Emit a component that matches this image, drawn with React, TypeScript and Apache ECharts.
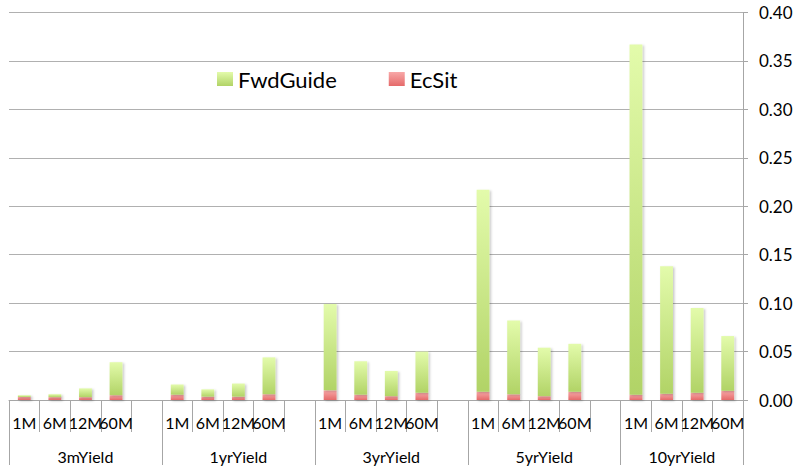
import React, { useEffect, useRef } from 'react';
import * as echarts from 'echarts';

const groups = ['3mYield', '1yrYield', '3yrYield', '5yrYield', '10yrYield'];
const horizons = ['1M', '6M', '12M', '60M'];

// FwdGuide contribution (stacked on top of EcSit)
const fwdGuide3m = [0.002, 0.003, 0.009, 0.034];
const fwdGuide1yr = [0.0105, 0.0075, 0.0135, 0.038];
const fwdGuide3yr = [0.089, 0.0345, 0.026, 0.0425];
const fwdGuide5yr = [0.2085, 0.076, 0.05, 0.0495];
const fwdGuide10yr = [0.3615, 0.1315, 0.0875, 0.0565];

// EcSit contribution (bottom of stack)
const ecSit3m = [0.003, 0.003, 0.003, 0.005];
const ecSit1yr = [0.0055, 0.0035, 0.0035, 0.006];
const ecSit3yr = [0.01, 0.0055, 0.004, 0.0075];
const ecSit5yr = [0.0085, 0.006, 0.004, 0.0085];
const ecSit10yr = [0.0055, 0.0065, 0.0075, 0.0095];

const fwdGuide = [fwdGuide3m, fwdGuide1yr, fwdGuide3yr, fwdGuide5yr, fwdGuide10yr];
const ecSit = [ecSit3m, ecSit1yr, ecSit3yr, ecSit5yr, ecSit10yr];

const yMin = 0;
const yMax = 0.4;
const yStep = 0.05;

const FONT = 'Lato, "Open Sans", sans-serif';
const AXIS_GRAY = '#a6a6a6';

export default function App() {
  const ref = useRef<HTMLDivElement>(null);
  useEffect(() => {
    document.body.style.margin = '0';
    const chart = echarts.init(ref.current!, null, { renderer: 'svg' });

    const cats: string[] = [];
    const groupCats: any[] = [];
    const groupStarts = new Set<number>();
    const fg: any[] = [];
    const ec: any[] = [];
    groups.forEach((g, gi) => {
      const start = cats.length;
      groupStarts.add(start);
      horizons.forEach((h, hi) => {
        cats.push(h);
        fg.push(fwdGuide[gi][hi]);
        ec.push(ecSit[gi][hi]);
      });
      if (gi < groups.length - 1) {
        cats.push('');
        fg.push('-');
        ec.push('-');
      }
      const n = cats.length - start;
      const mid = start + Math.floor((n - 1) / 2);
      for (let i = start; i < cats.length; i++) {
        if (i === mid) {
          groupCats.push(
            n % 2 === 0
              ? { value: g, textStyle: { padding: [0, 0, 0, 30.6] } }
              : g
          );
        } else {
          groupCats.push({ value: ' '.repeat(i + 1) });
        }
      }
    });

    const greenGrad = new echarts.graphic.LinearGradient(0, 0, 0, 1, [
      { offset: 0, color: '#e3fbab' },
      { offset: 1, color: '#b1d366' },
    ]);
    const redGrad = new echarts.graphic.LinearGradient(0, 0, 0, 1, [
      { offset: 0, color: '#f8a8a8' },
      { offset: 1, color: '#e56a6a' },
    ]);

    const shadow = {
      shadowColor: 'rgba(0,0,0,0.22)',
      shadowBlur: 2,
      shadowOffsetX: 1.5,
      shadowOffsetY: 1,
    };

    chart.setOption({
      animation: false,
      textStyle: { fontFamily: FONT },
      grid: { left: 9, right: 58, top: 12.5, bottom: 70, containLabel: false },
      legend: {
        data: ['FwdGuide', 'EcSit'],
        left: 212,
        top: 63,
        icon: 'rect',
        itemWidth: 16,
        itemHeight: 14,
        itemGap: 52,
        textStyle: { fontSize: 22, color: '#000', fontFamily: FONT },
      },
      xAxis: [
        {
          type: 'category',
          data: cats,
          position: 'bottom',
          axisLine: { show: true, lineStyle: { color: AXIS_GRAY, width: 1 } },
          axisTick: { show: true, interval: 0, length: 32, lineStyle: { color: AXIS_GRAY } },
          axisLabel: { interval: 0, fontSize: 16, color: '#000', margin: 14, fontFamily: FONT },
          splitLine: { show: false },
        },
        {
          type: 'category',
          data: groupCats,
          position: 'bottom',
          offset: 32,
          axisLine: { show: false },
          axisTick: {
            show: true,
            interval: (idx: number) => groupStarts.has(idx),
            length: 33,
            lineStyle: { color: AXIS_GRAY },
          },
          axisLabel: { interval: 0, fontSize: 16, color: '#000', margin: 16, fontFamily: FONT },
          splitLine: { show: false },
        },
      ],
      yAxis: {
        type: 'value',
        position: 'right',
        min: yMin,
        max: yMax,
        interval: yStep,
        axisLine: { show: true, lineStyle: { color: AXIS_GRAY } },
        axisTick: { show: true, length: 5, lineStyle: { color: AXIS_GRAY } },
        axisLabel: {
          fontSize: 17,
          color: '#000',
          margin: 16,
          fontFamily: FONT,
          formatter: (v: number) => v.toFixed(2),
        },
        splitLine: { show: true, lineStyle: { color: '#b0b0b0', width: 1 } },
      },
      series: [
        {
          name: 'EcSit',
          type: 'bar',
          stack: 'total',
          xAxisIndex: 0,
          barWidth: '42%',
          data: ec,
          itemStyle: { color: redGrad, ...shadow },
        },
        {
          name: 'FwdGuide',
          type: 'bar',
          stack: 'total',
          xAxisIndex: 0,
          barWidth: '42%',
          data: fg,
          itemStyle: { color: greenGrad, ...shadow },
        },
      ],
    });
    return () => chart.dispose();
  }, []);
  return <div ref={ref} style={{ width: 801, height: 470 }} />;
}
